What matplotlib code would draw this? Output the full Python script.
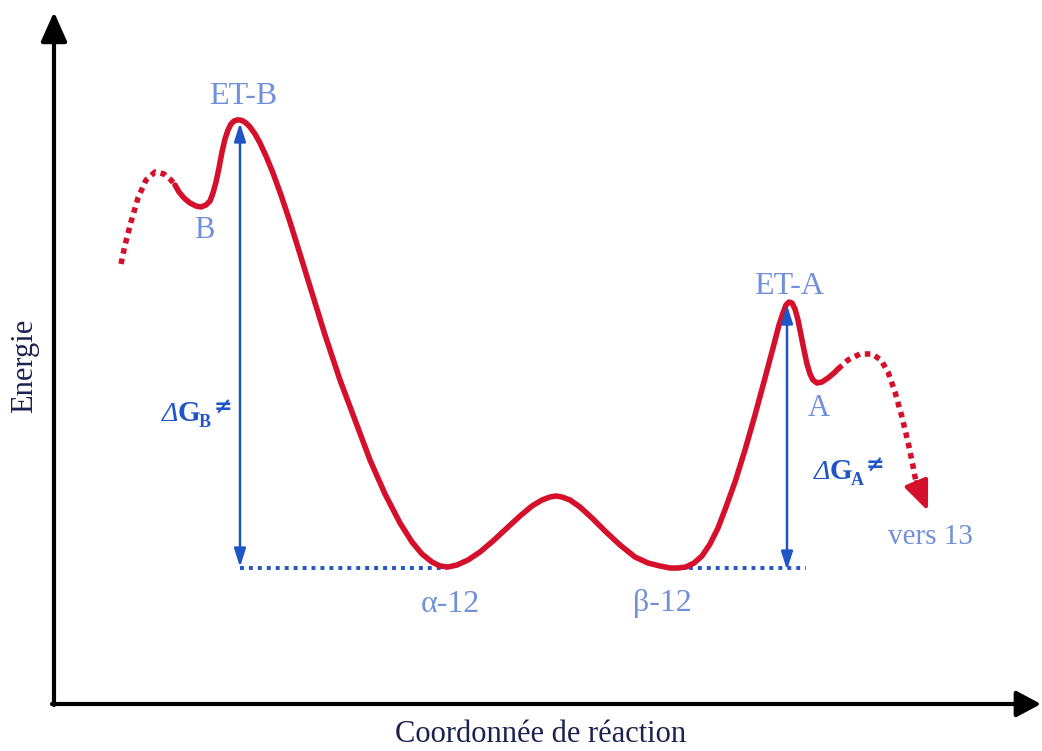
import matplotlib.pyplot as plt
import numpy as np

plt.rcParams["font.family"] = ["Liberation Serif", "DejaVu Serif"]

# reaction profile (x, y in picture units, y grows downward)
curve_x = [175, 179, 184, 190, 196, 201, 206, 210, 213, 216, 219, 222, 225, 228,
           231, 234, 237, 240, 243, 246, 250, 255, 260, 266, 273, 281, 290, 300,
           312, 325, 340, 355, 370, 385, 400, 412, 422, 432, 440, 448, 457, 468,
           480, 493, 507, 520, 532, 542, 550, 556, 562, 570, 580, 592, 605, 620,
           635, 648, 660, 670, 678, 686, 694, 702, 710, 718, 726, 735, 745, 755,
           765, 773, 779, 783, 786, 789, 792, 795, 798, 801, 804, 807, 810, 813,
           817, 822, 828, 834, 838]
curve_y = [185, 192, 198, 203, 206, 207, 205, 201, 193, 182, 168, 152, 139, 130,
           124, 121, 120, 120, 121, 123, 127, 134, 143, 156, 173, 195, 222, 254,
           293, 335, 380, 420, 460, 494, 523, 542, 554, 562, 566, 567, 565, 560,
           552, 541, 528, 516, 506, 500, 497, 496, 497, 500, 507, 518, 531, 545,
           557, 563, 566, 568, 568, 567, 563, 556, 544, 528, 507, 482, 450, 415,
           378, 348, 325, 313, 305, 302, 303, 309, 320, 335, 350, 364, 374, 380,
           383, 382, 378, 373, 369]

# dotted continuations
left_x = [121, 125, 131, 138, 146, 155, 164, 171, 175]
left_y = [264, 245, 222, 198, 180, 172, 174, 180, 185]
right_x = [838, 848, 860, 872, 881, 888, 895, 902, 908, 913, 916]
right_y = [369, 360, 354, 354, 360, 372, 392, 417, 442, 466, 482]

# energy gaps
dgB_x, dgB_top, dgB_bot = 240, 123, 567
dgA_x, dgA_top, dgA_bot = 787, 305, 570
base_y = 568
base_segments = [(240, 447), (680, 806)]

labels = [
    ("ET-B", 243, 96, 23),
    ("B", 204, 230, 22),
    ("ET-A", 789, 286, 23),
    ("A", 819, 408, 22),
    ("α-12", 450, 604, 23),
    ("β-12", 662, 604, 23),
    ("vers 13", 930, 537, 21),
]

red = "#d4102c"
blue = "#1f55c4"
light = "#7090da"
navy = "#1c2150"

fig = plt.figure(figsize=(10.42, 7.51), dpi=100)
ax = fig.add_axes([0, 0, 1, 1])
ax.set_xlim(0, 1042)
ax.set_ylim(751, 0)
ax.axis("off")

# axes with arrows
ax.annotate("", xy=(54, 12), xytext=(54, 705),
            arrowprops=dict(arrowstyle="-|>,head_length=1.8,head_width=0.8",
                            color="black", lw=3, shrinkA=0, shrinkB=0))
ax.annotate("", xy=(1041, 704), xytext=(52, 704),
            arrowprops=dict(arrowstyle="-|>,head_length=1.5,head_width=0.8",
                            color="black", lw=3, shrinkA=0, shrinkB=0))

# baseline dotted
for x0, x1 in base_segments:
    ax.plot([x0, x1], [base_y, base_y], color=blue, lw=2.8, ls=(0, (1, 1.3)))

# profile
ax.plot(curve_x, curve_y, color=red, lw=4, solid_capstyle="round",
        solid_joinstyle="round", zorder=3)
ax.plot(left_x, left_y, color=red, lw=4, ls=(0, (1, 0.9)), zorder=3)
ax.plot(right_x, right_y, color=red, lw=4, ls=(0, (1, 0.9)), zorder=3)
ax.annotate("", xy=(928, 511), xytext=(916, 482),
            arrowprops=dict(arrowstyle="-|>,head_length=1.8,head_width=0.75",
                            color=red, lw=3, shrinkA=0, shrinkB=0), zorder=3)

# gap arrows
for x, top, bot in [(dgB_x, dgB_top, dgB_bot), (dgA_x, dgA_top, dgA_bot)]:
    ax.annotate("", xy=(x, top), xytext=(x, bot),
                arrowprops=dict(arrowstyle="<|-|>,head_length=1.1,head_width=0.35",
                                color=blue, lw=1.8, shrinkA=0, shrinkB=0), zorder=4)

# delta G labels, pieced together
for x0, yb, sub in [(162, 421, "B"), (814, 479, "A")]:
    ax.text(x0, yb, "Δ", color=blue, fontsize=20, style="italic",
            va="baseline", ha="left")
    ax.text(x0 + 16, yb, "G", color=blue, fontsize=21, weight="bold",
            va="baseline", ha="left")
    ax.text(x0 + 37, yb + 6, sub, color=blue, fontsize=13, weight="bold",
            va="baseline", ha="left")
    ax.text(x0 + 52, yb - 13, "≠", color=blue, fontsize=16, weight="bold",
            va="center", ha="left", family=["DejaVu Sans"])

for txt, x, y, fs in labels:
    ax.text(x, y, txt, color=light, fontsize=fs, ha="center", va="center")

ax.text(25, 366, "Energie", color=navy, fontsize=22, rotation=90,
        ha="center", va="center")
ax.text(541, 735, "Coordonnée de réaction", color=navy, fontsize=22,
        ha="center", va="center")

fig.savefig("out.png", dpi=100)
